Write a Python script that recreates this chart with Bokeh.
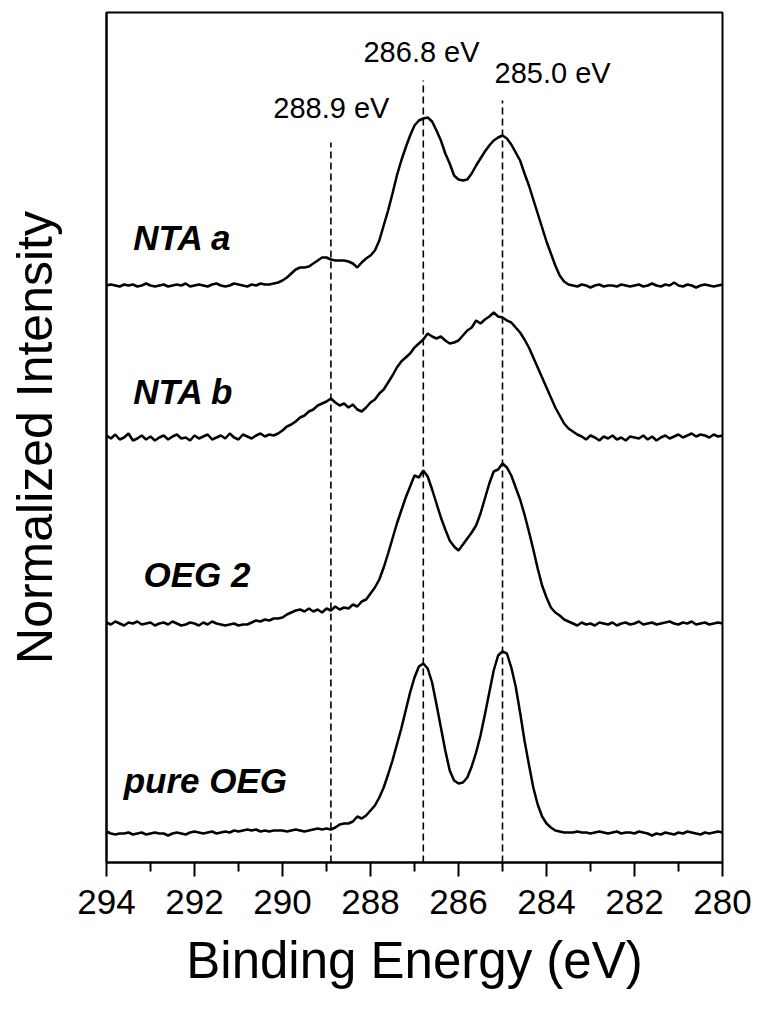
from bokeh.plotting import figure
from bokeh.models import Range1d, FixedTicker, ColumnDataSource
from bokeh.embed import file_html
from bokeh.resources import INLINE
from bokeh.core.properties import value
import numpy as np

# Binding energy grid (eV), 294.0 -> 280.0 in 0.1 eV steps
energy = np.round(np.arange(294.0, 279.95, -0.1), 1)

# Intensities above each spectrum's own baseline (arbitrary units)
nta_a = [0, 1, 0, -1, 1, 0, 1, -1, 0, 2,
         0, -1, 0, 1, -1, 0, 1, 0, 2, -1,
         0, 1, 0, -1, 1, 2, 0, -1, 0, 2,
         1, 0, -1, 1, 0, 2, 1, 1, 2,
         3, 5, 8, 12, 16, 18, 18, 19, 22, 25,
         28, 28, 26, 25, 25, 25, 24, 22, 18, 23,
         27, 30, 35, 45, 60, 75, 92, 110, 125, 138,
         150, 160, 165, 167, 168, 164, 155, 145, 132, 122,
         110, 106, 105, 106, 112, 120, 127, 134, 140, 145,
         148, 150, 147, 141, 133, 125, 112, 100, 86, 72,
         58, 44, 32, 20, 10, 4, 1,
         0, -1, 1, 0, -2, 0, 1, -1, 0, 0,
         -1, 1, 0, -1, 0, 1, -1, 0, 2, 0,
         -1, 1, 0, 3, 0, -1, 1, 0, -2, 0,
         1, 0, -1, 0, 1]

nta_b = [2, -1, 3, -2, 0, 4, -3, -1, 2, -2,
         1, -3, 0, 2, -2, 1, 3, -1, 0, -3,
         2, -1, 1, 3, -2, 0, 2, -1, 4, 0,
         -2, 3, 1, -1, 2, 4, 1, 3, 2,
         4, 7, 11, 13, 16, 20, 22, 26, 28, 32,
         34, 36, 39, 35, 32, 34, 30, 33, 28, 26,
         30, 35, 38, 44, 48, 55, 62, 70, 76, 80,
         84, 90, 94, 98, 104, 101, 99, 101, 97, 94,
         95, 97, 102, 107, 110, 117, 114, 118, 121, 125,
         121, 120, 117, 115, 110, 105, 98, 90, 80, 70,
         60, 50, 40, 30, 22, 14, 9, 6, 3,
         1, -2, 2, 0, -3, 1, -1, 2, -2, 0,
         -3, 1, 0, -1, 2, -2, 1, -3, 0, 2,
         -1, 1, 3, 0, 2, 4, 1, 3, 2, 0,
         3, 1, 2]

oeg_2 = [1, -1, 2, 0, -2, 1, 0, 2, -1, 0,
         1, -2, 0, 1, -1, 2, 0, -2, -1, 1,
         0, -2, 1, -1, 2, 0, -1, -2, -1, 0,
         -2, -1, -1, 1, 3, 2, 4, 3, 5,
         5, 6, 9, 11, 13, 14, 12, 15, 12, 14,
         11, 15, 13, 17, 14, 16, 15, 19, 17, 22,
         24, 30, 36, 44, 56, 70, 85, 100, 113, 126,
         137, 148, 146, 153, 147, 134, 120, 106, 94, 83,
         77, 73, 79, 85, 91, 98, 110, 125, 140, 152,
         154, 160, 156, 148, 136, 124, 109, 92, 74, 55,
         38, 26, 16, 11, 8, 4, 2,
         0, -2, 1, -1, 0, -2, 1, 0, -1, 1,
         -2, 0, 1, -1, 0, 2, -1, 0, 1, -1,
         0, 1, 2, 0, -1, 1, 0, 2, -1, 0,
         1, -1, 0, 1, 0]

pure_oeg = [1, -1, -2, -1, -1, 0, -2, -1, 0, -2,
            -1, 0, -1, -1, -3, -1, 0, -1, -2, 0,
            1, 0, -1, 0, 1, -1, 0, 1, 0, 2,
            1, 2, 3, 2, 3, 1, 2, 1, 2,
            2, 2, 1, 2, 3, 2, 1, 2, 3, 4,
            3, 4, 3, 5, 8, 9, 9, 11, 16, 14,
            17, 22, 27, 35, 45, 58, 72, 88, 104, 122,
            140, 155, 166, 169, 164, 150, 128, 105, 82, 62,
            52, 49, 50, 55, 66, 80, 97, 118, 140, 162,
            177, 181, 179, 165, 146, 120, 92, 68, 45, 28,
            16, 9, 5, 2, 1, 0, 0,
            0, 1, 0, 0, -1, 0, 1, 0, -1, 0,
            1, -1, 0, 0, -1, 1, 0, -1, -3, -1,
            -2, 0, -1, -2, 0, -1, 1, 0, -1, -2,
            0, -1, 0, 1, 0]

series = [nta_a, nta_b, oeg_2, pure_oeg]
offsets = [577, 425, 239, 30]

sample_names = ["NTA a", "NTA b", "OEG 2", "pure OEG"]
name_x = [293.39, 293.39, 293.16, 293.61]
name_y = [625, 471, 288, 82]

peak_energies = [288.9, 286.8, 285.0]
peak_labels = ["288.9 eV", "286.8 eV", "285.0 eV"]
peak_line_top = [720, 782, 762]
peak_label_x = [288.89, 286.84, 283.86]
peak_label_y = [755, 811, 790]

x_ticks = [294, 292, 290, 288, 286, 284, 282, 280]
x_minor = [293, 291, 289, 287, 285, 283, 281]

FONT = "Liberation Sans"

p = figure(width=754, height=1002, output_backend="svg", toolbar_location=None,
           x_range=Range1d(294, 280), y_range=Range1d(0, 850),
           min_border_left=106, min_border_right=32, min_border_top=12,
           min_border_bottom=140)
p.background_fill_color = "white"
p.border_fill_color = "white"
p.outline_line_color = "black"
p.outline_line_width = 2
p.xgrid.visible = False
p.ygrid.visible = False

# spectra
for vals, off in zip(series, offsets):
    p.line(energy, np.array(vals) + off, line_color="black", line_width=2.5)

# dashed peak markers
p.segment(x0=peak_energies, y0=[0, 0, 0], x1=peak_energies, y1=peak_line_top,
          line_color="black", line_width=1.6, line_dash="7 4")

pk_src = ColumnDataSource(dict(x=peak_label_x, y=peak_label_y, t=peak_labels))
p.text(x="x", y="y", text="t", source=pk_src, text_font=value(FONT),
       text_font_size="29px", text_align="center", text_baseline="alphabetic",
       text_color="black")

nm_src = ColumnDataSource(dict(x=name_x, y=name_y, t=sample_names))
p.text(x="x", y="y", text="t", source=nm_src, text_font=value(FONT),
       text_font_size="35px", text_font_style="bold italic", text_align="left",
       text_baseline="alphabetic", text_color="black")

# x axis
xa = p.xaxis[0]
xa.ticker = FixedTicker(ticks=x_ticks, minor_ticks=x_minor)
xa.axis_label = "Binding Energy (eV)"
xa.axis_label_text_font = FONT
xa.axis_label_text_font_style = "normal"
xa.axis_label_text_font_size = "51px"
xa.axis_label_text_color = "black"
xa.axis_label_standoff = 15
xa.major_label_text_font = FONT
xa.major_label_text_font_size = "35px"
xa.major_label_text_color = "black"
xa.major_label_standoff = 13
xa.axis_line_width = 2
xa.axis_line_color = "black"
xa.major_tick_line_width = 2
xa.minor_tick_line_width = 2
xa.major_tick_line_color = "black"
xa.minor_tick_line_color = "black"
xa.major_tick_in = 0
xa.major_tick_out = 14
xa.minor_tick_in = 0
xa.minor_tick_out = 9

# y axis (no ticks)
ya = p.yaxis[0]
ya.ticker = FixedTicker(ticks=[])
ya.axis_label = "Normalized Intensity"
ya.axis_label_text_font = FONT
ya.axis_label_text_font_style = "normal"
ya.axis_label_text_font_size = "50px"
ya.axis_label_text_color = "black"
ya.axis_label_standoff = 44
ya.axis_line_width = 2
ya.axis_line_color = "black"
ya.major_tick_out = 0
ya.major_tick_in = 0
ya.minor_tick_out = 0
ya.minor_tick_in = 0

open("out.html", "w").write(file_html(p, INLINE))
